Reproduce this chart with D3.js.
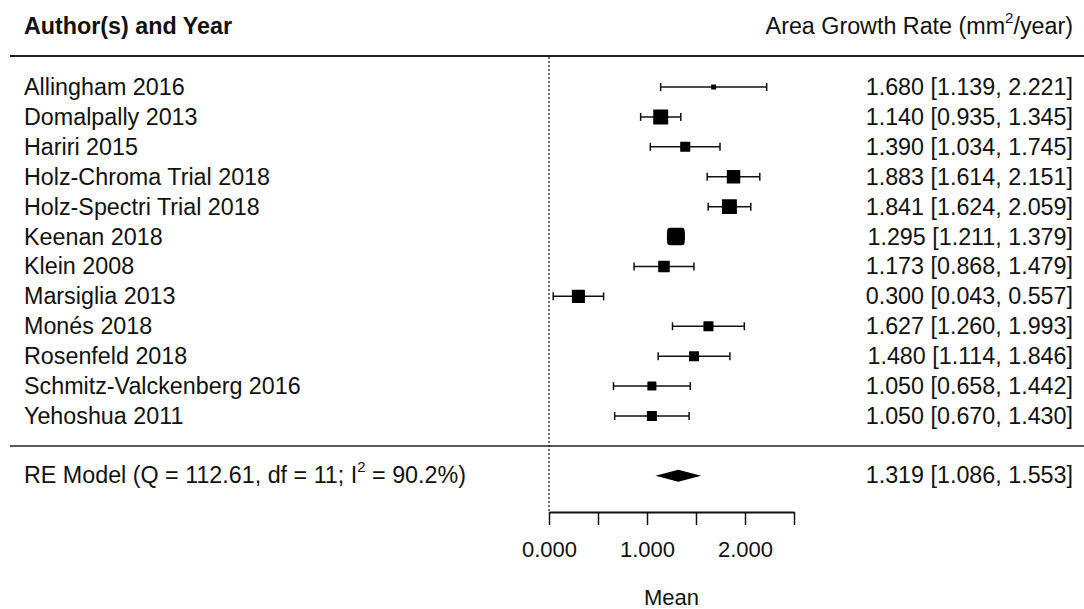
<!DOCTYPE html>
<html>
<head>
    <title>Forest plot</title>
    <script src="https://d3js.org/d3.v7.min.js"></script>
    <style>
        body { margin: 0; background: #fff; }
        text { font-family: "Liberation Sans", Arial, sans-serif; fill: #111; font-size: 23.3px; }
        .axis path, .axis line { stroke: #111; }
        .axis text { font-family: "Liberation Sans", Arial, sans-serif; font-size: 22px; fill: #111; }
    </style>
</head>
<body>
<script>
    // Data
    var studies = ["Allingham 2016", "Domalpally 2013", "Hariri 2015", "Holz-Chroma Trial 2018",
        "Holz-Spectri Trial 2018", "Keenan 2018", "Klein 2008", "Marsiglia 2013", "Monés 2018",
        "Rosenfeld 2018", "Schmitz-Valckenberg 2016", "Yehoshua 2011"];
    var means = [1.680, 1.140, 1.390, 1.883, 1.841, 1.295, 1.173, 0.300, 1.627, 1.480, 1.050, 1.050];
    var lower = [1.139, 0.935, 1.034, 1.614, 1.624, 1.211, 0.868, 0.043, 1.260, 1.114, 0.658, 0.670];
    var upper = [2.221, 1.345, 1.745, 2.151, 2.059, 1.379, 1.479, 0.557, 1.993, 1.846, 1.442, 1.430];
    var weights = [3.3, 10.0, 6.7, 9.0, 10.0, 11.7, 7.7, 8.7, 6.7, 6.7, 6.0, 6.7];
    var reMean = 1.319, reLower = 1.086, reUpper = 1.553;
    var reLabel = ["RE Model (Q = 112.61, df = 11; I", "2", " = 90.2%)"];
    var xTicks = [0, 0.5, 1, 1.5, 2, 2.5];
    var xTickLabels = {0: "0.000", 1: "1.000", 2: "2.000"};

    var width = 1084, height = 609;
    var fmt = d3.format(".3f");

    var svg = d3.select("body").append("svg")
        .attr("width", width)
        .attr("height", height);

    // Scales
    var x = d3.scaleLinear().domain([0, 2.5]).range([549, 794]);
    var y = d3.scaleLinear().domain([1, 12]).range([87, 416]);
    var size = d3.scaleLinear().domain(d3.extent(weights)).range([5, 17.5]);
    var reY = y(14);

    var rows = studies.map(function(s, i) {
        return {name: s, mean: means[i], lo: lower[i], hi: upper[i], w: weights[i], row: i + 1};
    });

    // Header
    svg.append("text")
        .attr("x", 24).attr("y", 34)
        .style("font-weight", "bold")
        .text("Author(s) and Year");

    var hdr = svg.append("text")
        .attr("x", 1073).attr("y", 34)
        .attr("text-anchor", "end");
    hdr.append("tspan").text("Area Growth Rate (mm");
    hdr.append("tspan").attr("dy", -11).style("font-size", "15px").text("2");
    hdr.append("tspan").attr("dy", 11).text("/year)");

    // Separator lines
    svg.append("line").attr("x1", 10).attr("x2", width).attr("y1", 56).attr("y2", 56)
        .attr("stroke", "#222").attr("stroke-width", 2);
    svg.append("line").attr("x1", 10).attr("x2", width).attr("y1", 446).attr("y2", 446)
        .attr("stroke", "#222").attr("stroke-width", 1.5);

    // Reference line at 0
    svg.append("line")
        .attr("x1", x(0)).attr("x2", x(0)).attr("y1", 57).attr("y2", 512)
        .attr("stroke", "#111").attr("stroke-width", 1.2)
        .attr("stroke-dasharray", "2,2");

    // Study labels
    svg.selectAll(".lab").data(rows).enter().append("text")
        .attr("class", "lab")
        .attr("x", 24).attr("y", function(d) { return y(d.row) + 8; })
        .text(function(d) { return d.name; });

    // Values text
    svg.selectAll(".val").data(rows).enter().append("text")
        .attr("class", "val")
        .attr("x", 1073).attr("y", function(d) { return y(d.row) + 8; })
        .attr("text-anchor", "end")
        .text(function(d) { return fmt(d.mean) + " [" + fmt(d.lo) + ", " + fmt(d.hi) + "]"; });

    // CI lines
    var g = svg.append("g").attr("stroke", "#111").attr("stroke-width", 1.5);
    g.selectAll(".ci").data(rows).enter().append("line")
        .attr("x1", function(d) { return x(d.lo); })
        .attr("x2", function(d) { return x(d.hi); })
        .attr("y1", function(d) { return y(d.row); })
        .attr("y2", function(d) { return y(d.row); });
    g.selectAll(".capl").data(rows).enter().append("line")
        .attr("x1", function(d) { return x(d.lo); })
        .attr("x2", function(d) { return x(d.lo); })
        .attr("y1", function(d) { return y(d.row) - 4; })
        .attr("y2", function(d) { return y(d.row) + 4; });
    g.selectAll(".caph").data(rows).enter().append("line")
        .attr("x1", function(d) { return x(d.hi); })
        .attr("x2", function(d) { return x(d.hi); })
        .attr("y1", function(d) { return y(d.row) - 4; })
        .attr("y2", function(d) { return y(d.row) + 4; });

    // Squares
    svg.selectAll(".pt").data(rows).enter().append("rect")
        .attr("x", function(d) { return x(d.mean) - size(d.w) / 2; })
        .attr("y", function(d) { return y(d.row) - size(d.w) / 2; })
        .attr("width", function(d) { return size(d.w); })
        .attr("height", function(d) { return size(d.w); })
        .attr("rx", function(d) { return size(d.w) > 16 ? 3 : 0.5; })
        .attr("fill", "#000");

    // RE model diamond
    svg.append("path")
        .attr("d", "M" + x(reLower) + "," + reY +
            "L" + x(reMean) + "," + (reY - 6) +
            "L" + x(reUpper) + "," + reY +
            "L" + x(reMean) + "," + (reY + 6) + "Z")
        .attr("fill", "#000");

    var re = svg.append("text")
        .attr("x", 24).attr("y", reY + 7);
    re.append("tspan").text(reLabel[0]);
    re.append("tspan").attr("dy", -11).style("font-size", "15px").text(reLabel[1]);
    re.append("tspan").attr("dy", 11).text(reLabel[2]);

    svg.append("text")
        .attr("x", 1073).attr("y", reY + 7)
        .attr("text-anchor", "end")
        .text(fmt(reMean) + " [" + fmt(reLower) + ", " + fmt(reUpper) + "]");

    // X axis
    var axis = svg.append("g")
        .attr("class", "axis")
        .attr("transform", "translate(0,512)")
        .call(d3.axisBottom(x)
            .tickValues(xTicks)
            .tickSize(13)
            .tickSizeOuter(0)
            .tickPadding(16)
            .tickFormat(function(d) { return xTickLabels[d] || ""; }));
    axis.select(".domain").attr("stroke-width", 2);
    axis.selectAll(".tick line").attr("stroke-width", 1.5);

    svg.append("text")
        .attr("x", x(1.25)).attr("y", 605)
        .attr("text-anchor", "middle")
        .style("font-size", "22px")
        .text("Mean");
</script>
</body>
</html>
